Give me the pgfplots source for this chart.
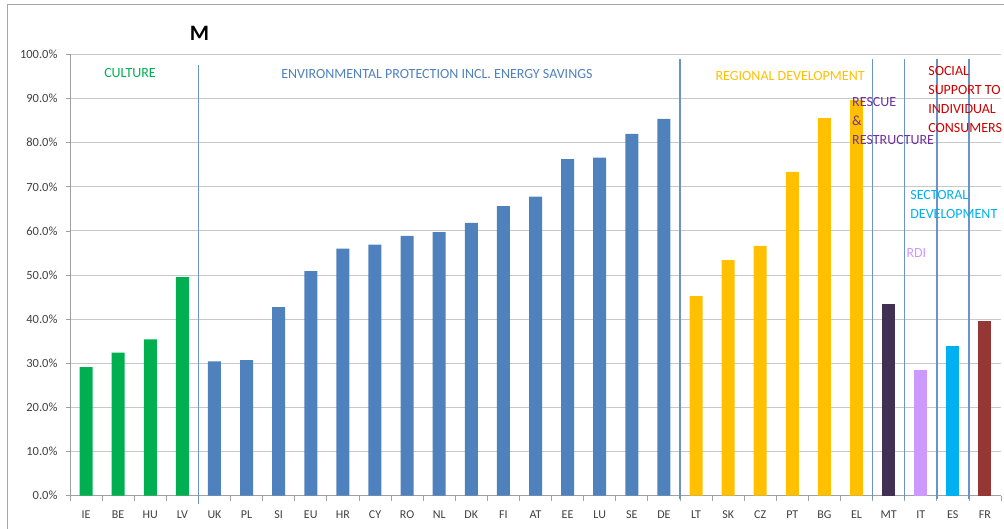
\documentclass[border=0pt]{standalone}
\usepackage{fontspec}
\setmainfont{Carlito}
\usepackage{pgfplots}
\pgfplotsset{compat=1.18}

\definecolor{cult}{RGB}{0,176,80}
\definecolor{env}{RGB}{79,129,189}
\definecolor{reg}{RGB}{255,192,0}
\definecolor{resc}{RGB}{64,49,82}
\definecolor{rescTxt}{RGB}{112,48,160}
\definecolor{rdi}{RGB}{204,153,255}
\definecolor{sect}{RGB}{0,176,240}
\definecolor{soc}{RGB}{149,55,53}
\definecolor{socTxt}{RGB}{204,0,0}
\definecolor{sepline}{RGB}{79,129,189}
\definecolor{gridgray}{RGB}{200,200,200}
\definecolor{ticktxt}{RGB}{64,64,64}

\tikzset{
  sep/.style={sepline!85, line width=1.4pt},
  bar/.style={draw=none, bar shift=0pt},
}

\begin{document}
\begin{tikzpicture}
  % page = 1004 x 528 pt, axis box lower left at (70,32.5) from the page corner
  \path[use as bounding box] (-70pt,-32.5pt) rectangle (934pt,495.5pt);
  \draw[gray!70, line width=1pt] (-62pt,-40pt) -- (-62pt,490.5pt) -- (940pt,490.5pt);
  \node[font=\fontsize{22}{24}\selectfont\bfseries] at (129.5pt,462.5pt) {M};

  \begin{axis}[
    at={(0pt,0pt)}, anchor=south west,
    scale only axis,
    width=931pt, height=441pt,
    ybar, bar width=13pt,
    xmin=-0.5, xmax=28.5,
    ymin=0, ymax=100,
    clip=false,
    axis x line*=bottom, axis y line*=left,
    axis line style={gridgray!80!black, line width=0.8pt, -},
    xtick={0,...,28},
    xticklabels={IE,BE,HU,LV,UK,PL,SI,EU,HR,CY,RO,NL,DK,FI,AT,EE,LU,SE,DE,LT,SK,CZ,PT,BG,EL,MT,IT,ES,FR},
    major x tick style={draw=none},
    minor xtick={-0.5,0.5,...,28.5},
    minor x tick style={gridgray!80!black, line width=0.8pt},
    tick align=outside,
    minor tick length=5pt,
    major tick length=4pt,
    ytick={0,10,...,100},
    major y tick style={gridgray!80!black, line width=0.8pt},
    ymajorgrids,
    grid style={gridgray, line width=0.9pt},
    /pgf/number format/assume math mode=true,
    yticklabel={\pgfmathprintnumber[fixed,fixed zerofill,precision=1]{\tick}\%},
    x tick label style={font=\fontsize{12}{14}\selectfont, text=ticktxt, yshift=-8pt},
    y tick label style={font=\fontsize{12.5}{14}\selectfont, text=ticktxt, xshift=-5pt},
  ]
    % culture
    \addplot[bar, fill=cult] coordinates {(0,29.1) (1,32.4) (2,35.4) (3,49.5)};
    % environmental protection incl. energy savings
    \addplot[bar, fill=env] coordinates {
      (4,30.4) (5,30.7) (6,42.7) (7,50.9) (8,56.0) (9,56.9) (10,58.9)
      (11,59.7) (12,61.8) (13,65.6) (14,67.8) (15,76.3) (16,76.6)
      (17,82.0) (18,85.4)};
    % regional development
    \addplot[bar, fill=reg] coordinates {
      (19,45.2) (20,53.4) (21,56.6) (22,73.4) (23,85.6) (24,89.7)};
    % rescue & restructure
    \addplot[bar, fill=resc] coordinates {(25,43.4)};
    % RDI
    \addplot[bar, fill=rdi] coordinates {(26,28.5)};
    % sectoral development
    \addplot[bar, fill=sect] coordinates {(27,33.9)};
    % social support to individual consumers
    \addplot[bar, fill=soc] coordinates {(28,39.6)};

    % group separators
    \draw[sep] (axis cs:3.5,-2) -- (axis cs:3.5,97.6);
    \draw[sep] (axis cs:18.5,-0.8) -- (axis cs:18.5,98.9);
    \draw[sep] (axis cs:24.5,-0.8) -- (axis cs:24.5,98.9);
    \draw[sep] (axis cs:25.5,-0.8) -- (axis cs:25.5,98.9);
    \draw[sep] (axis cs:26.5,-0.8) -- (axis cs:26.5,98.9);
    \draw[sep] (axis cs:27.5,-0.8) -- (axis cs:27.5,98.9);

    % group names
    \begin{scope}[every node/.style={font=\fontsize{14}{19}\selectfont, inner sep=0pt}]
      \node[anchor=base, text=cult] at (axis cs:1.37,94.8) {CULTURE};
      \node[anchor=base, text=env] at (axis cs:10.93,94.6) {ENVIRONMENTAL PROTECTION INCL. ENERGY SAVINGS};
      \node[anchor=base, text=reg] at (axis cs:21.93,94.0) {REGIONAL DEVELOPMENT};
      \node[anchor=north west, align=left, text=rescTxt] at (axis cs:23.86,90.3) {RESCUE\\\&\\RESTRUCTURE};
      \node[anchor=north west, align=left, text=socTxt] at (axis cs:26.23,97.3) {SOCIAL\\SUPPORT TO\\INDIVIDUAL\\CONSUMERS};
      \node[anchor=north west, align=left, text=sect] at (axis cs:25.67,69.2) {SECTORAL\\DEVELOPMENT};
      \node[anchor=north west, align=left, text=rdi] at (axis cs:25.55,56.0) {RDI};
    \end{scope}
  \end{axis}
\end{tikzpicture}
\end{document}
